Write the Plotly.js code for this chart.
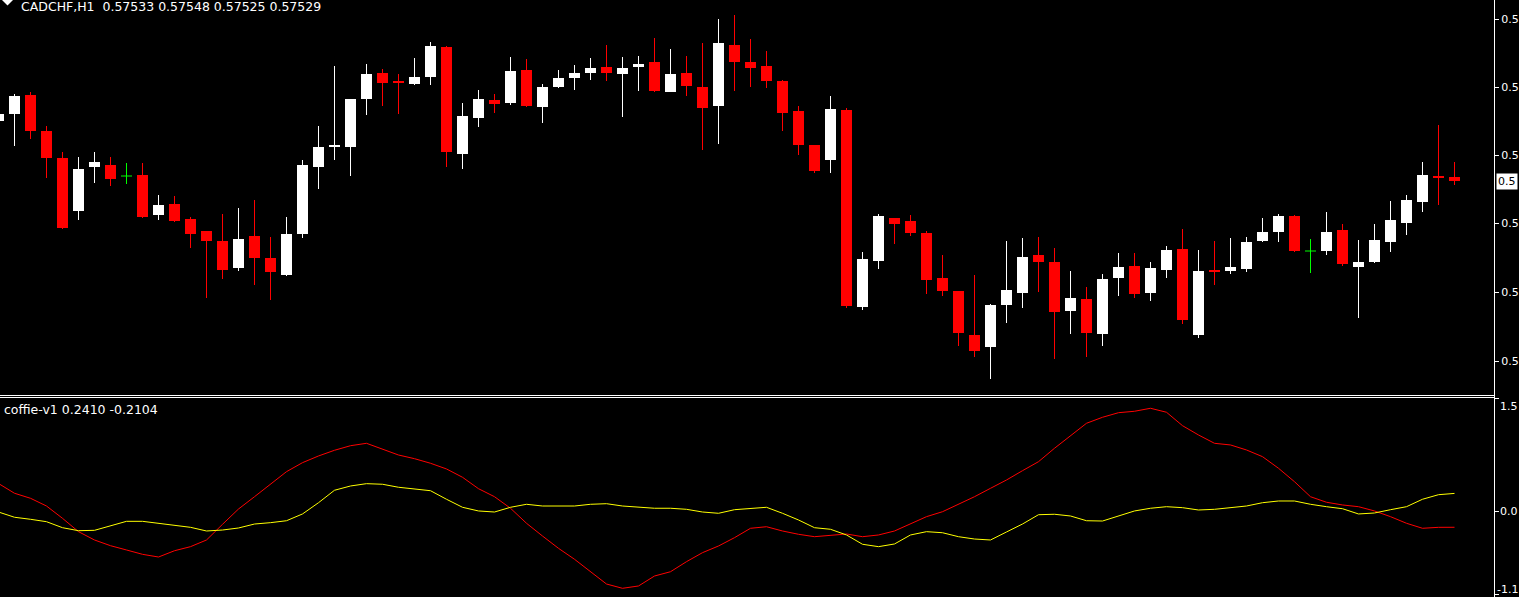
<!DOCTYPE html>
<html><head><meta charset="utf-8">
<script src="https://cdn.plot.ly/plotly-3.0.1.min.js"></script>
<style>html,body{margin:0;padding:0;background:#000;overflow:hidden}</style>
</head><body><div id="chart" style="width:1519px;height:597px"></div>
<script>
const symbol = 'CADCHF,H1';
const opens = [0.57589,0.57596,0.57615,0.57579,0.57552,0.57499,0.57543,0.57545,0.57534,0.57535,
0.57495,0.57506,0.57491,0.57479,0.57469,0.57442,0.57474,0.57452,0.57435,0.57476,
0.57543,0.57563,0.57563,0.57611,0.57637,0.57629,0.57626,0.57633,0.57663,0.57556,
0.57592,0.57610,0.57607,0.57640,0.57603,0.57623,0.57632,0.57637,0.57643,0.57636,
0.57643,0.57648,0.57618,0.57637,0.57623,0.57604,0.57665,0.57648,0.57644,0.57629,
0.57599,0.57565,0.57550,0.57600,0.57403,0.57449,0.57492,0.57489,0.57477,0.57432,
0.57419,0.57375,0.57363,0.57405,0.57417,0.57455,0.57448,0.57399,0.57411,0.57376,
0.57432,0.57444,0.57417,0.57440,0.57461,0.57375,0.57440,0.57439,0.57441,0.57469,
0.57478,0.57494,0.57459,0.57459,0.57480,0.57443,0.57448,0.57468,0.57487,0.57508,
0.57534,0.57533];
const highs = [0.57598,0.57616,0.57618,0.57584,0.57558,0.57553,0.57558,0.57553,0.57547,0.57547,
0.57515,0.57514,0.57493,0.57479,0.57496,0.57502,0.57510,0.57473,0.57493,0.57550,
0.57584,0.57644,0.57611,0.57646,0.57641,0.57636,0.57652,0.57668,0.57664,0.57607,
0.57620,0.57616,0.57653,0.57651,0.57626,0.57640,0.57645,0.57652,0.57665,0.57653,
0.57654,0.57672,0.57661,0.57654,0.57667,0.57691,0.57695,0.57671,0.57659,0.57630,
0.57604,0.57565,0.57614,0.57602,0.57458,0.57496,0.57492,0.57495,0.57479,0.57455,
0.57419,0.57435,0.57406,0.57469,0.57472,0.57473,0.57462,0.57439,0.57423,0.57436,
0.57457,0.57457,0.57448,0.57464,0.57481,0.57460,0.57469,0.57472,0.57473,0.57492,
0.57496,0.57495,0.57471,0.57498,0.57486,0.57470,0.57486,0.57509,0.57515,0.57548,
0.57585,0.57548];
const lows = [0.57587,0.57564,0.57571,0.57532,0.57481,0.57490,0.57527,0.57524,0.57526,0.57492,
0.57490,0.57488,0.57462,0.57412,0.57431,0.57439,0.57425,0.57410,0.57434,0.57472,
0.57521,0.57550,0.57534,0.57595,0.57604,0.57596,0.57625,0.57625,0.57543,0.57541,
0.57583,0.57597,0.57605,0.57603,0.57587,0.57622,0.57620,0.57630,0.57629,0.57593,
0.57619,0.57618,0.57618,0.57614,0.57560,0.57566,0.57619,0.57623,0.57622,0.57579,
0.57555,0.57537,0.57537,0.57402,0.57400,0.57441,0.57466,0.57474,0.57416,0.57414,
0.57364,0.57353,0.57331,0.57387,0.57402,0.57418,0.57351,0.57376,0.57353,0.57364,
0.57414,0.57412,0.57409,0.57432,0.57386,0.57372,0.57425,0.57436,0.57438,0.57468,
0.57468,0.57458,0.57437,0.57455,0.57444,0.57392,0.57447,0.57458,0.57475,0.57498,
0.57505,0.57525];
const closes = [0.57596,0.57614,0.57579,0.57552,0.57482,0.57541,0.57548,0.57531,0.57534,0.57493,
0.57505,0.57489,0.57476,0.57469,0.57440,0.57471,0.57452,0.57438,0.57476,0.57545,
0.57563,0.57565,0.57611,0.57636,0.57627,0.57627,0.57633,0.57664,0.57558,0.57594,
0.57611,0.57606,0.57639,0.57604,0.57623,0.57632,0.57637,0.57642,0.57637,0.57642,
0.57646,0.57619,0.57636,0.57624,0.57602,0.57667,0.57648,0.57642,0.57629,0.57597,
0.57565,0.57539,0.57601,0.57404,0.57451,0.57494,0.57486,0.57477,0.57430,0.57419,
0.57377,0.57359,0.57405,0.57420,0.57453,0.57448,0.57398,0.57412,0.57377,0.57431,
0.57443,0.57416,0.57442,0.57460,0.57390,0.57439,0.57438,0.57443,0.57468,0.57478,
0.57494,0.57459,0.57459,0.57478,0.57446,0.57448,0.57470,0.57490,0.57510,0.57535,
0.57532,0.57529];

const indicatorName = 'coffie-v1';
const yellowLine = [-0.007,-0.077,-0.104,-0.136,-0.216,-0.256,-0.251,-0.193,-0.131,-0.131,
-0.157,-0.176,-0.211,-0.260,-0.247,-0.220,-0.167,-0.149,-0.123,-0.033,
0.117,0.283,0.340,0.371,0.363,0.323,0.304,0.277,0.163,0.056,
0.007,-0.007,0.056,0.096,0.073,0.073,0.073,0.096,0.104,0.073,
0.056,0.043,0.043,0.029,-0.007,-0.024,0.024,0.043,0.056,-0.024,
-0.113,-0.216,-0.237,-0.313,-0.437,-0.469,-0.433,-0.313,-0.269,-0.283,
-0.336,-0.367,-0.380,-0.273,-0.167,-0.043,-0.037,-0.060,-0.123,-0.127,
-0.056,0.007,0.043,0.064,0.051,0.020,0.029,0.047,0.073,0.117,
0.140,0.140,0.096,0.064,0.037,-0.033,-0.020,0.024,0.064,0.163,
0.224,0.2410];
const redLine = [0.373,0.243,0.176,0.073,-0.091,-0.269,-0.380,-0.456,-0.513,-0.571,
-0.607,-0.523,-0.469,-0.380,-0.171,0.033,0.197,0.367,0.531,0.651,
0.740,0.816,0.877,0.909,0.833,0.753,0.704,0.643,0.567,0.456,
0.304,0.197,0.043,-0.157,-0.327,-0.491,-0.637,-0.807,-0.967,-1.024,
-0.993,-0.860,-0.803,-0.669,-0.549,-0.460,-0.349,-0.224,-0.203,-0.260,
-0.304,-0.336,-0.317,-0.300,-0.336,-0.313,-0.260,-0.167,-0.069,-0.003,
0.096,0.197,0.309,0.420,0.544,0.664,0.843,1.011,1.176,1.256,
1.317,1.336,1.376,1.323,1.144,1.020,0.909,0.887,0.820,0.731,
0.576,0.397,0.197,0.123,0.087,0.064,0.007,-0.069,-0.157,-0.224,
-0.211,-0.2104];

const priceTicks = [0.57691, 0.57623, 0.57555, 0.57487, 0.57418, 0.57349];
const indTicks = [1.5, 0, -1.1];
// the window's right edge cuts every scale label after its first characters
const priceTickText = ['0.5', '0.5', '0.5', '0.5', '0.5', '0.5'];
const indTickText = ['1.5', '0.0', '-1.1'];
const lastPriceText = '0.5';

// ---- styling constants ----
const W = 1519, H = 597, PLOT_W = 1494;
const FONT = 'DejaVu Sans';
const FS = 12.5, AXFS = 11;
const BULL = '#FFFFFF', BEAR = '#FF0000', DOJI = '#00FF00';
const bodyW = 0.6875;

const n = opens.length;
const bull = {x: [], base: [], y: []}, bear = {x: [], base: [], y: []};
const wB = {x: [], y: []}, wR = {x: [], y: []}, wG = {x: [], y: []}, dj = {x: [], y: []};
for (let i = 0; i < n; i++) {
  const o = opens[i], h = highs[i], l = lows[i], c = closes[i];
  if (c > o) {
    bull.x.push(i); bull.base.push(o); bull.y.push(c - o);
    wB.x.push(i, i, null); wB.y.push(l, h, null);
  } else if (c < o) {
    bear.x.push(i); bear.base.push(c); bear.y.push(o - c);
    wR.x.push(i, i, null); wR.y.push(l, h, null);
  } else {
    wG.x.push(i, i, null); wG.y.push(l, h, null);
    dj.x.push(i - bodyW / 2, i + bodyW / 2, null); dj.y.push(o, o, null);
  }
}
const xs = opens.map((_, i) => i);

const wick = (d, col) => ({type: 'scatter', mode: 'lines', x: d.x, y: d.y, xaxis: 'x', yaxis: 'y',
  line: {color: col, width: 1}, connectgaps: false, hoverinfo: 'skip', showlegend: false});
const body = (d, col) => ({type: 'bar', x: d.x, y: d.y, base: d.base, width: bodyW, xaxis: 'x', yaxis: 'y',
  marker: {color: col, line: {width: 0}}, hoverinfo: 'skip', showlegend: false});

const traces = [
  wick(wB, BULL), wick(wR, BEAR), wick(wG, DOJI),
  body(bull, BULL), body(bear, BEAR),
  {type: 'scatter', mode: 'lines', x: dj.x, y: dj.y, xaxis: 'x', yaxis: 'y', line: {color: DOJI, width: 1}, connectgaps: false, showlegend: false},
  {type: 'scatter', mode: 'lines', x: xs, y: redLine, xaxis: 'x2', yaxis: 'y2', line: {color: '#FF0000', width: 1}, showlegend: false},
  {type: 'scatter', mode: 'lines', x: xs, y: yellowLine, xaxis: 'x2', yaxis: 'y2', line: {color: '#FFFF00', width: 1}, showlegend: false}
];

const r0 = 1 - 14.5 / 16;
const xRange = [r0, r0 + PLOT_W / 16];
const mainBottom = 395, indTop = 398;
const xa = {range: xRange, visible: false, fixedrange: true};
const last = n - 1;
const f5 = v => v.toFixed(5);
const py = p => 1 - p / H;   // pixel row -> paper y
const px = p => p / PLOT_W;  // pixel col -> paper x
const white = '#FFFFFF';

const annotations = [
  {xref: 'paper', yref: 'paper', x: px(19), y: 1, xanchor: 'left', yanchor: 'top', yshift: 3, showarrow: false,
   text: symbol + '\u00a0 ' + [opens[last], highs[last], lows[last], closes[last]].map(f5).join(' '),
   font: {family: FONT, size: FS, color: white}},
  {xref: 'paper', yref: 'paper', x: px(2), y: py(409), xanchor: 'left', yanchor: 'middle', showarrow: false,
   text: indicatorName + ' ' + yellowLine[last].toFixed(4) + ' ' + redLine[last].toFixed(4),
   font: {family: FONT, size: FS, color: white}},
  {xref: 'paper', yref: 'y', x: px(1496), y: closes[last], xanchor: 'left', yanchor: 'middle', showarrow: false,
   text: lastPriceText, bgcolor: white, borderpad: 1, font: {family: FONT, size: AXFS, color: '#000000'}},
];
const anch = ['top', 'middle', 'bottom'];
const ysh = [0, 0, -3];
const xsh = [1499, 1499, 1496];
indTicks.forEach((v, j) => annotations.push({xref: 'paper', yref: 'y2', x: px(xsh[j]), y: v, xanchor: 'left', yanchor: anch[j],
  yshift: ysh[j], showarrow: false, text: indTickText[j], borderpad: 0, font: {family: FONT, size: AXFS, color: white}}));

const layout = {
  width: W, height: H, paper_bgcolor: '#000', plot_bgcolor: '#000',
  margin: {l: 0, r: W - PLOT_W, t: 0, b: 0}, barmode: 'overlay', showlegend: false, hovermode: false,
  xaxis: Object.assign({anchor: 'y'}, xa),
  xaxis2: Object.assign({anchor: 'y2'}, xa),
  yaxis: {domain: [1 - mainBottom / H, 1], range: [0.57710 - mainBottom / 100000, 0.57710], side: 'right',
    showline: true, linecolor: white, linewidth: 1, ticks: 'outside', ticklen: 4, tickwidth: 1, tickcolor: white,
    tickvals: priceTicks, ticktext: priceTickText, tickfont: {family: FONT, size: AXFS, color: white},
    showgrid: false, zeroline: false, fixedrange: true},
  yaxis2: {domain: [0, 1 - indTop / H], range: [-1.14, 1.513], side: 'right',
    showline: true, linecolor: white, linewidth: 1, ticks: 'outside', ticklen: 4, tickwidth: 1, tickcolor: white,
    tickvals: indTicks, showticklabels: false, showgrid: false, zeroline: false, fixedrange: true},
  shapes: [
    {type: 'line', xref: 'paper', yref: 'paper', x0: 0, x1: px(1494.5), y0: py(395.5), y1: py(395.5), line: {color: white, width: 1}},
    {type: 'line', xref: 'paper', yref: 'paper', x0: 0, x1: px(1494.5), y0: py(397.5), y1: py(397.5), line: {color: white, width: 1}},
    {type: 'line', xref: 'paper', yref: 'paper', x0: px(1494.5), x1: px(1494.5), y0: py(395), y1: py(398), line: {color: white, width: 1}},
    {type: 'path', xref: 'paper', yref: 'paper', path: `M ${px(2)} ${py(0)} L ${px(13)} ${py(0)} L ${px(7.5)} ${py(5.5)} Z`,
     fillcolor: white, line: {width: 0}}
  ],
  annotations: annotations
};

Plotly.newPlot('chart', traces, layout, {staticPlot: true, displayModeBar: false});
</script></body></html>
